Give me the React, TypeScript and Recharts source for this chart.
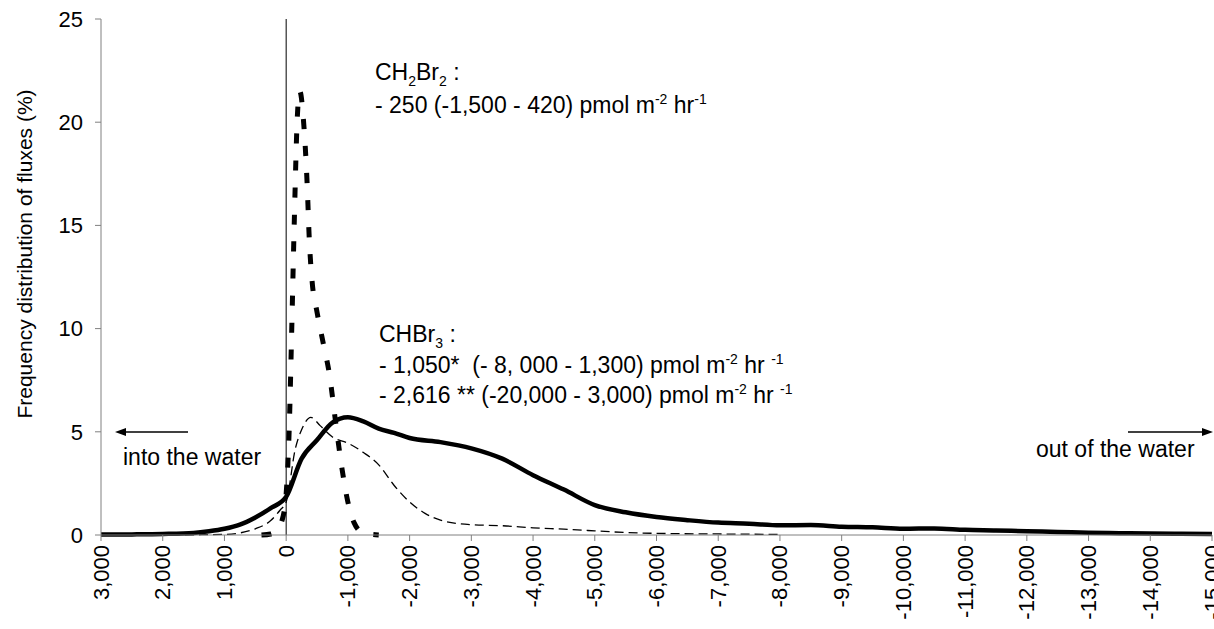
import React from 'react';
import { LineChart, Line, XAxis, YAxis, ReferenceLine } from 'recharts';

// flux bins (pmol m-2 hr-1) and frequency (%)
const chbr3TotalX = [3000, 2500, 2000, 1500, 1250, 1000, 750, 500, 250, 0, -250, -500, -750, -1000, -1250, -1500, -1750, -2000,
  -2500, -3000, -3500, -4000, -4500, -5000, -5500, -6000, -6500, -7000, -7500, -8000, -8500, -9000, -9500, -10000,
  -10500, -11000, -11500, -12000, -12500, -13000, -13500, -14000, -14500, -15000];
const chbr3TotalY = [0.02, 0.03, 0.05, 0.1, 0.18, 0.3, 0.5, 0.85, 1.3, 1.85, 3.7, 4.6, 5.45, 5.7, 5.5, 5.15, 4.95, 4.7,
  4.5, 4.2, 3.7, 2.9, 2.2, 1.45, 1.1, 0.87, 0.72, 0.6, 0.55, 0.47, 0.48, 0.4, 0.37, 0.3,
  0.32, 0.25, 0.22, 0.18, 0.15, 0.11, 0.09, 0.07, 0.06, 0.05];

const chbr3X = [3000, 2000, 1500, 1000, 750, 500, 250, 100, 0, -150, -250, -400, -550, -750, -1000, -1250, -1500, -1750,
  -2000, -2250, -2500, -3000, -3500, -4000, -4500, -5000, -5500, -6000, -7000, -8000];
const chbr3Y = [0, 0, 0.01, 0.03, 0.1, 0.3, 0.7, 1.2, 1.6, 4.2, 5.1, 5.7, 5.3, 4.75, 4.45, 4.0, 3.4, 2.4,
  1.6, 1.05, 0.72, 0.5, 0.45, 0.35, 0.28, 0.2, 0.12, 0.08, 0.05, 0.03];

const ch2br2X = [400, 250, 150, 50, 0, -50, -85, -130, -180, -220, -290, -340, -375, -420, -500, -600, -700, -800, -900,
  -1000, -1100, -1250, -1500];
const ch2br2Y = [0, 0.05, 0.25, 0.9, 2.0, 5.2, 9.3, 15, 20.2, 21.5, 19.7, 17, 14.3, 12.3, 10.8, 9.3, 7.8, 5.5, 3.3,
  1.6, 0.6, 0.1, 0];

const xTicks = [3000, 2000, 1000, 0, -1000, -2000, -3000, -4000, -5000, -6000, -7000, -8000, -9000, -10000, -11000,
  -12000, -13000, -14000, -15000];
const yTicks = [0, 5, 10, 15, 20, 25];

const zip = (xs: number[], ys: number[]) => xs.map((x, i) => ({ x, y: ys[i] }));
const totalData = zip(chbr3TotalX, chbr3TotalY);
const chbr3Data = zip(chbr3X, chbr3Y);
const ch2br2Data = zip(ch2br2X, ch2br2Y);

const FONT = '"Liberation Sans", Arial, sans-serif';

const XTick = (props: any) => {
  const { x, y, payload } = props;
  return (
    <text x={x} y={y} transform={`rotate(-90 ${x} ${y})`} textAnchor="end" dominantBaseline="central"
      fontSize={22} fontFamily={FONT} fill="#000">
      {Number(payload.value).toLocaleString('en-US')}
    </text>
  );
};

// text with raised / lowered runs; each shift is undone by the next run
const Rich = ({ x, y, parts }: { x: number; y: number; parts: [string, number][] }) => {
  let prev = 0;
  return (
    <text x={x} y={y} xmlSpace="preserve" style={{ whiteSpace: 'pre' }}>
      {parts.map(([s, shift], i) => {
        const dy = shift - prev;
        prev = shift;
        return (
          <tspan key={i} dy={dy} fontSize={shift === 0 ? 23 : 14}>{s}</tspan>
        );
      })}
    </text>
  );
};

export default function App() {
  return (
    <div style={{ position: 'absolute', left: 0, top: 0, width: 1214, height: 629, background: '#fff' }}>
      <LineChart width={1214} height={629} margin={{ top: 19, right: 2, bottom: 0, left: 0 }}>
        <XAxis dataKey="x" type="number" domain={[-15000, 3000]} reversed ticks={xTicks} interval={0}
          allowDataOverflow height={94} tickSize={6} tickMargin={4} tick={XTick}
          axisLine={{ stroke: '#808080' }} tickLine={{ stroke: '#808080' }} />
        <YAxis type="number" domain={[0, 25]} ticks={yTicks} width={101} tickSize={6} tickMargin={12}
          tick={{ fontSize: 22, fontFamily: FONT, fill: '#000' }}
          axisLine={{ stroke: '#808080' }} tickLine={{ stroke: '#808080' }} />
        <ReferenceLine x={0} stroke="#000" strokeWidth={1} ifOverflow="extendDomain" />
        <Line data={chbr3Data} dataKey="y" type="monotone" stroke="#000" strokeWidth={1.3}
          strokeDasharray="9 5" dot={false} activeDot={false} isAnimationActive={false} />
        <Line data={ch2br2Data} dataKey="y" type="monotone" stroke="#000" strokeWidth={5}
          strokeDasharray="10 17" dot={false} activeDot={false} isAnimationActive={false} />
        <Line data={totalData} dataKey="y" type="monotone" stroke="#000" strokeWidth={4.5}
          dot={false} activeDot={false} isAnimationActive={false} />
      </LineChart>

      <svg width={1214} height={629} style={{ position: 'absolute', left: 0, top: 0, pointerEvents: 'none' }}
        fontFamily={FONT} fill="#000">
        <text transform="rotate(-90 24 254)" x={24} y={254} textAnchor="middle" dominantBaseline="central" fontSize={21}>
          Frequency distribution of fluxes (%)
        </text>

        <g fontSize={23}>
          <Rich x={375} y={80} parts={[['CH', 0], ['2', 6], ['Br', 0], ['2', 6], [' :', 0]]} />
          <Rich x={375} y={113} parts={[['- 250 (-1,500 - 420) pmol m', 0], ['-2', -9], [' hr', 0], ['-1', -9]]} />
          <Rich x={379} y={342} parts={[['CHBr', 0], ['3', 6], [' :', 0]]} />
          <Rich x={379} y={373} parts={[['- 1,050*  (- 8, 000 - 1,300) pmol m', 0], ['-2', -9], [' hr ', 0], ['-1', -9]]} />
          <Rich x={379} y={403} parts={[['- 2,616 ** (-20,000 - 3,000) pmol m', 0], ['-2', -9], [' hr ', 0], ['-1', -9]]} />
          <text x={123} y={465}>into the water</text>
          <text x={1036} y={457}>out of the water</text>
        </g>

        <line x1={188} y1={432} x2={124} y2={432} stroke="#000" strokeWidth={1.5} />
        <polygon points="115,432 126,428 126,436" fill="#000" />
        <line x1={1128} y1={432} x2={1204} y2={432} stroke="#000" strokeWidth={1.5} />
        <polygon points="1213,432 1202,428 1202,436" fill="#000" />
      </svg>
    </div>
  );
}
